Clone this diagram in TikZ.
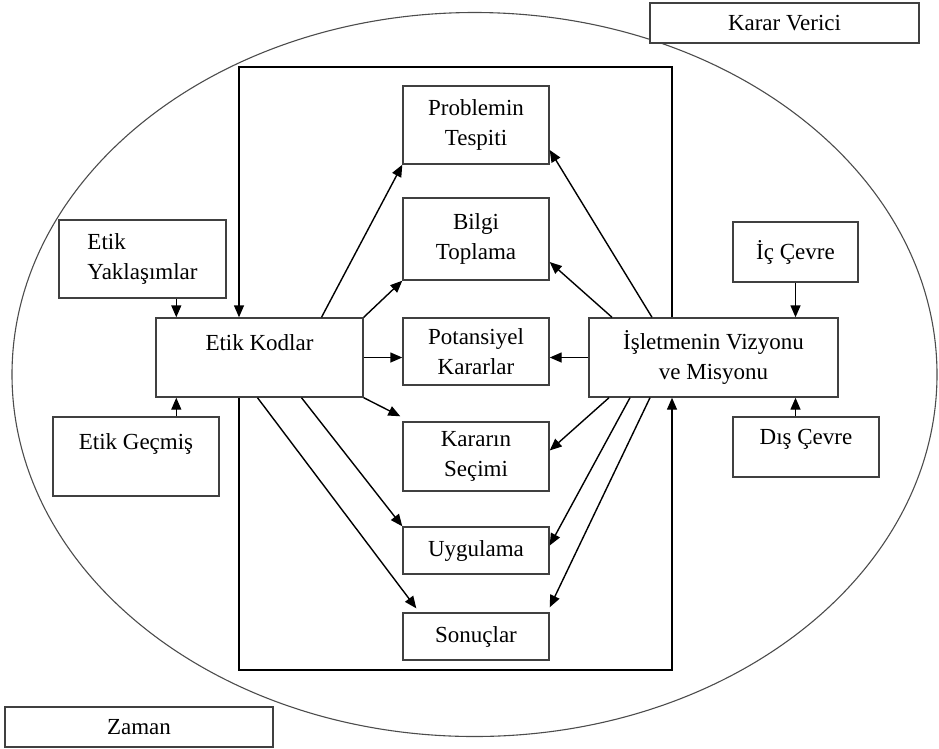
\documentclass[tikz,border=0pt]{standalone}
\usepackage{fontspec}
\setmainfont{Liberation Serif}
\usetikzlibrary{arrows.meta}

\begin{document}
\begin{tikzpicture}[x=1pt,y=-1pt,
   font=\fontsize{23}{30}\selectfont,
   blok/.style={rectangle,draw=black!75,line width=1.4pt,fill=white,
     align=center,inner sep=2pt},
   ar/.style={-{Triangle[length=12pt,width=10pt]},line width=1.4pt,draw=black}]

  \useasboundingbox (0,0) rectangle (939,748);
  \draw[black!70,line width=1.1pt] (474.5,374.5) ellipse [x radius=462.5pt,y radius=362pt];

  \coordinate (ftl) at (239,67);
  \coordinate (fbr) at (672,670);

  \node[blok,minimum width=269pt,minimum height=40pt] (verici) at (784.5,23) {Karar Verici};
  \node[blok,minimum width=268pt,minimum height=40pt] (zaman) at (139,727) {Zaman};

  \node[blok,minimum width=167pt,minimum height=78pt,align=left] (yaklasim) at (142.5,259)
    {Etik\\Yaklaşımlar};
  \node[blok,minimum width=207pt,minimum height=79pt] (kodlar) at (259.5,357.5)
    {Etik Kodlar\\~};
  \node[blok,minimum width=166pt,minimum height=79pt] (gecmis) at (136,456.5)
    {Etik Geçmiş\\~};

  \node[blok,minimum width=146pt,minimum height=78pt] (problem) at (476,125)
    {Problemin\\Tespiti};
  \node[blok,minimum width=146pt,minimum height=82pt] (bilgi) at (476,239)
    {Bilgi\\Toplama};
  \node[blok,minimum width=146pt,minimum height=67pt] (potansiyel) at (476,351.5)
    {Potansiyel\\Kararlar};
  \node[blok,minimum width=146pt,minimum height=69pt] (secim) at (476,456.5)
    {Kararın\\Seçimi};
  \node[blok,minimum width=146pt,minimum height=47pt] (uygulama) at (476,550.5)
    {Uygulama};
  \node[blok,minimum width=146pt,minimum height=47pt] (sonuc) at (476,636.5)
    {Sonuçlar};

  \node[blok,minimum width=249pt,minimum height=79pt] (vizyon) at (713.5,357.5)
    {İşletmenin Vizyonu\\ve Misyonu};
  \node[blok,minimum width=125pt,minimum height=60pt] (ic) at (795.5,252) {İç Çevre};
  \node[blok,minimum width=146pt,minimum height=60pt] (dis) at (806,447) {Dış Çevre\\[-10pt]~};

  \draw[ar] (vizyon.north -| fbr) |- (ftl) -- (kodlar.north -| ftl);
  \draw[ar] (kodlar.south -| ftl) |- (fbr) -- (vizyon.south -| fbr);

  \draw[ar] ([xshift=118pt]yaklasim.south west) -- ([xshift=21pt]kodlar.north west);
  \draw[ar] ([xshift=124pt]gecmis.north west) -- ([xshift=21pt]kodlar.south west);
  \draw[ar] (ic.south) -- (ic.south |- vizyon.north);
  \draw[ar] (dis.north -| ic.south) -- (ic.south |- vizyon.south);

  \draw[ar] ([xshift=62pt]kodlar.north) -- (problem.south west);
  \draw[ar] (kodlar.north east) -- (bilgi.south west);
  \draw[ar] (kodlar.east) -- (kodlar.east -| potansiyel.west);
  \draw[ar] (kodlar.south east) -- ([xshift=-2pt,yshift=5pt]secim.north west);
  \draw[ar] ([xshift=42pt]kodlar.south) -- (uygulama.north west);
  \draw[ar] ([xshift=-2pt]kodlar.south) -- ([xshift=14pt,yshift=4pt]sonuc.north west);

  \draw[ar] ([xshift=-61.5pt]vizyon.north) -- ([yshift=-25pt]problem.east);
  \draw[ar] ([xshift=-101.5pt]vizyon.north) -- ([yshift=-23pt]bilgi.east);
  \draw[ar] (vizyon.west) -- (vizyon.west -| potansiyel.east);
  \draw[ar] ([xshift=-104.5pt]vizyon.south) -- ([yshift=6pt]secim.east);
  \draw[ar] ([xshift=-83.5pt]vizyon.south) -- ([yshift=5pt]uygulama.east);
  \draw[ar] ([xshift=-63.5pt]vizyon.south) -- ([yshift=5pt]sonuc.north east);
\end{tikzpicture}
\end{document}
